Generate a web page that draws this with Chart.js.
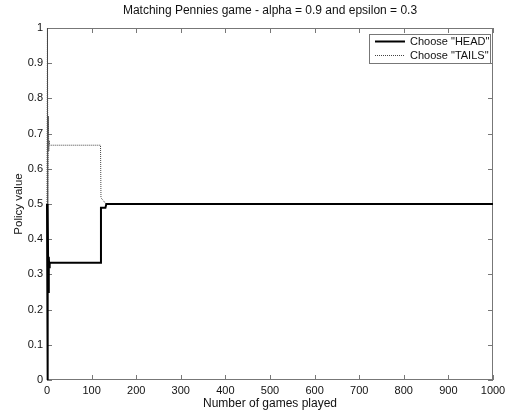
<!DOCTYPE html>
<html lang="en">
<head>
    <meta charset="UTF-8">
    <title>Matching Pennies game</title>
    <script src="https://cdn.jsdelivr.net/npm/chart.js"></script>
    <style>
        body { margin: 0; background: #fff; }
        #wrap { width: 506px; height: 412px; }
    </style>
</head>
<body>
    <div id="wrap"><canvas id="myChart" width="506" height="412"></canvas></div>

    <script>
        // Datos (numero de partidas y valor de la politica)
        const headGames = [0, 1, 2, 3, 4, 5, 6, 120, 121, 131, 133, 1000];
        const headPolicy = [0.5, 0, 0.5, 0.25, 0.35, 0.32, 0.333, 0.333, 0.489, 0.489, 0.5, 0.5];
        const tailsGames = [0, 1, 2, 3, 4, 5, 6, 120, 121, 125, 132, 1000];
        const tailsPolicy = [0.5, 1, 0.5, 0.75, 0.65, 0.68, 0.667, 0.667, 0.517, 0.512, 0.5, 0.5];
        const seriesLabels = ['Choose "HEAD"', 'Choose "TAILS"'];
        const xTickStep = 100;
        const yTickStep = 0.1;

        const axisColor = '#777';
        const fontFamily = 'Arial, "Liberation Sans", sans-serif';

        // Caja y marcas hacia dentro, estilo MATLAB
        const boxPlugin = {
            id: 'box',
            beforeDatasetsDraw(chart) {
                const { ctx, chartArea: a, scales } = chart;
                ctx.save();
                ctx.strokeStyle = axisColor;
                ctx.lineWidth = 1;
                ctx.strokeRect(a.left + 0.5, a.top + 0.5, a.right - a.left - 1, a.bottom - a.top - 1);
                ctx.beginPath();
                scales.x.ticks.forEach(t => {
                    const px = Math.round(scales.x.getPixelForValue(t.value)) + 0.5;
                    ctx.moveTo(px, a.bottom); ctx.lineTo(px, a.bottom - 5);
                    ctx.moveTo(px, a.top); ctx.lineTo(px, a.top + 5);
                });
                scales.y.ticks.forEach(t => {
                    const py = Math.round(scales.y.getPixelForValue(t.value)) + 0.5;
                    ctx.moveTo(a.left, py); ctx.lineTo(a.left + 5, py);
                    ctx.moveTo(a.right, py); ctx.lineTo(a.right - 5, py);
                });
                ctx.stroke();
                ctx.restore();
            },
            afterDraw(chart) {
                // Leyenda con recuadro
                const { ctx, chartArea: a } = chart;
                const bw = 121, bh = 29;
                const bx = a.right - 3 - bw, by = a.top + 6;
                ctx.save();
                ctx.fillStyle = '#fff';
                ctx.fillRect(bx, by, bw, bh);
                ctx.strokeStyle = axisColor;
                ctx.lineWidth = 1;
                ctx.strokeRect(bx + 0.5, by + 0.5, bw, bh);
                ctx.font = '11px ' + fontFamily;
                ctx.textBaseline = 'middle';
                chart.data.datasets.forEach((ds, i) => {
                    const y = by + 7.5 + i * 14;
                    ctx.strokeStyle = ds.borderColor;
                    ctx.lineWidth = ds.borderWidth;
                    ctx.setLineDash(ds.borderDash || []);
                    ctx.beginPath();
                    ctx.moveTo(bx + 6, y); ctx.lineTo(bx + 36, y);
                    ctx.stroke();
                    ctx.setLineDash([]);
                    ctx.fillStyle = '#111';
                    ctx.fillText(ds.label, bx + 41, y);
                });
                ctx.restore();
            }
        };

        const ctx = document.getElementById('myChart').getContext('2d');
        const chart = new Chart(ctx, {
            type: 'line',
            data: {
                datasets: [{
                    label: seriesLabels[0],
                    data: headGames.map((g, i) => ({ x: g, y: headPolicy[i] })),
                    borderColor: '#000',
                    borderWidth: 2,
                    pointRadius: 0,
                    tension: 0,
                    clip: 2
                }, {
                    label: seriesLabels[1],
                    data: tailsGames.map((g, i) => ({ x: g, y: tailsPolicy[i] })),
                    borderColor: '#444',
                    borderWidth: 1,
                    borderDash: [1, 1],
                    pointRadius: 0,
                    tension: 0,
                    clip: 2
                }]
            },
            options: {
                responsive: false,
                animation: false,
                layout: { padding: { left: 0, right: 13, top: 0, bottom: 0 } },
                plugins: {
                    legend: { display: false },
                    tooltip: { enabled: false },
                    title: {
                        display: true,
                        fullSize: false,
                        text: 'Matching Pennies game - alpha = 0.9 and epsilon = 0.3',
                        color: '#111',
                        font: { family: fontFamily, size: 12, weight: 'normal' },
                        padding: { top: 3, bottom: 10.6 }
                    }
                },
                scales: {
                    x: {
                        type: 'linear',
                        min: 0,
                        max: 1000,
                        afterFit: s => { s.height = 32; s.paddingLeft = 0; s.paddingRight = 0; },
                        grid: { display: false, drawTicks: false },
                        border: { display: false },
                        ticks: {
                            stepSize: xTickStep,
                            padding: 4,
                            maxRotation: 0,
                            color: '#111',
                            font: { family: fontFamily, size: 11 },
                            callback: v => String(v)
                        },
                        title: {
                            display: true,
                            text: 'Number of games played',
                            color: '#111',
                            font: { family: fontFamily, size: 12 },
                            padding: { top: 0, bottom: 1 }
                        }
                    },
                    y: {
                        min: 0,
                        max: 1,
                        afterFit: s => { s.width = 47; s.paddingTop = 0; s.paddingBottom = 0; },
                        grid: { display: false, drawTicks: false },
                        border: { display: false },
                        ticks: {
                            stepSize: yTickStep,
                            padding: 4,
                            color: '#111',
                            font: { family: fontFamily, size: 11 },
                            callback: v => String(+v.toFixed(2))
                        },
                        title: {
                            display: true,
                            text: 'Policy value',
                            color: '#111',
                            font: { family: fontFamily, size: 11.5 },
                            padding: { top: 12, bottom: 0 }
                        }
                    }
                }
            },
            plugins: [boxPlugin]
        });
    </script>
</body>
</html>
